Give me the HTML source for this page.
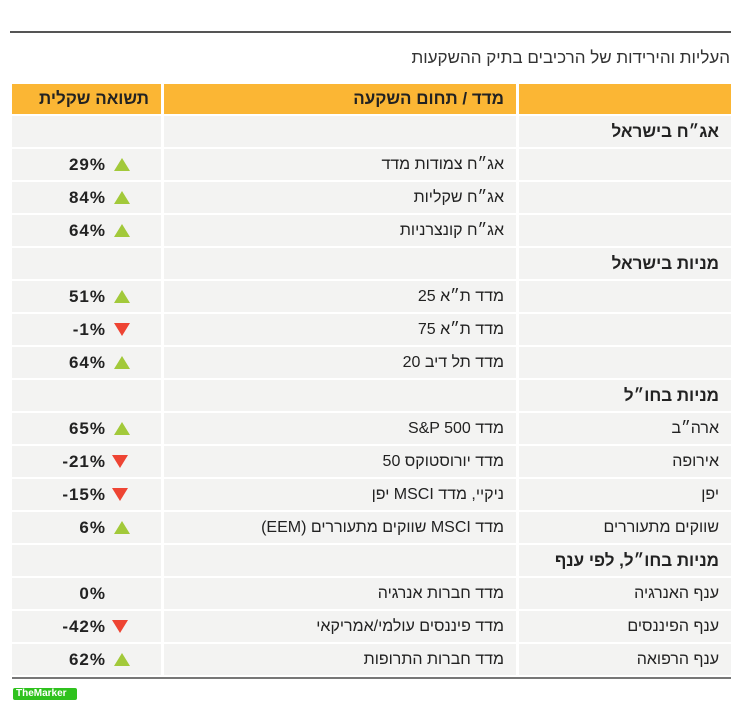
<!DOCTYPE html>
<html><head><meta charset="utf-8"><style>
body{margin:0;width:748px;height:720px;background:#fff;font-family:"Liberation Sans","Noto Sans CJK JP",sans-serif;position:relative;overflow:hidden}
.a{position:absolute}
.cell{position:absolute;background:#f3f3f2;height:31px;box-sizing:border-box;direction:rtl;font-size:16px;color:#222;line-height:31px;padding-right:12px;white-space:nowrap}
.hd{background:#fbb634;font-weight:bold;font-size:17px}
.b{font-weight:bold;font-size:17px}
.val{position:absolute;font-weight:bold;font-size:17px;color:#222;line-height:31px;letter-spacing:1px}
.up{position:absolute;width:0;height:0;border-left:8px solid transparent;border-right:8px solid transparent;border-bottom:13px solid #a2c93a}
.dn{position:absolute;width:0;height:0;border-left:8px solid transparent;border-right:8px solid transparent;border-top:13px solid #ee4433}
</style></head><body>
<div class="a" style="left:10px;top:31px;width:721px;height:2px;background:#555"></div>
<div class="a" style="right:18px;top:48px;font-size:17px;color:#333;direction:rtl">העליות והירידות של הרכיבים בתיק ההשקעות</div>
<div class="cell hd" style="left:519px;top:84px;width:212px;height:30px"></div>
<div class="cell hd" style="left:164px;top:84px;width:352px;height:30px;line-height:30px">מדד / תחום השקעה</div>
<div class="cell hd" style="left:12px;top:84px;width:149px;height:30px;line-height:30px">תשואה שקלית</div>
<div id="rows"></div>
<div class="a" style="left:12px;top:677px;width:719px;height:2px;background:#777"></div>
<div class="a" style="left:13px;top:688px;width:64px;height:12px;background:#2fc21e;color:#fff;font-size:10px;font-weight:bold;line-height:12px;padding-left:3px;box-sizing:border-box;border-radius:2px">TheMarker</div>
<script>
const categories=["אג״ח בישראל","","","","מניות בישראל","","","","מניות בחו״ל","ארה״ב","אירופה","יפן","שווקים מתעוררים","מניות בחו״ל, לפי ענף","ענף האנרגיה","ענף הפיננסים","ענף הרפואה"];
const isSection=[1,0,0,0,1,0,0,0,1,0,0,0,0,1,0,0,0];
const indices=["","אג״ח צמודות מדד","אג״ח שקליות","אג״ח קונצרניות","","מדד ת״א 25","מדד ת״א 75","מדד תל דיב 20","","מדד S&P 500","מדד יורוסטוקס 50","ניקיי, מדד MSCI יפן","מדד MSCI שווקים מתעוררים (EEM)","","מדד חברות אנרגיה","מדד פיננסים עולמי/אמריקאי","מדד חברות התרופות"];
const returns=[null,29,84,64,null,51,-1,64,null,65,-21,-15,6,null,0,-42,62];
const root=document.getElementById('rows');
const y0=116,pitch=33;
for(let i=0;i<categories.length;i++){
  const y=y0+i*pitch;
  const c=document.createElement('div');c.className='cell'+(isSection[i]?' b':'');
  
  
  c.style.cssText=`left:519px;top:${y}px;width:212px`;c.textContent=categories[i];root.appendChild(c);
  const m=document.createElement('div');m.className='cell';
  
  
  m.style.cssText=`left:164px;top:${y}px;width:352px`;m.textContent=indices[i];root.appendChild(m);
  const r=document.createElement('div');r.className='cell';
  
  
  r.style.cssText=`left:12px;top:${y}px;width:149px`;root.appendChild(r);
  const v=returns[i];
  if(v===null)continue;
  const t=document.createElement('div');t.className='val';
  
  
  t.textContent=v+'%';t.style.cssText=`right:${748-106}px;top:${y}px`;root.appendChild(t);
  if(v!==0){
    const ar=document.createElement('div');ar.className=v>0?'up':'dn';
    
    
    const ax=(v<0&&v<=-10)?112:114;
    ar.style.left=ax+'px';ar.style.top=(y+9)+'px';root.appendChild(ar);
  }
}
</script>
</body></html>
